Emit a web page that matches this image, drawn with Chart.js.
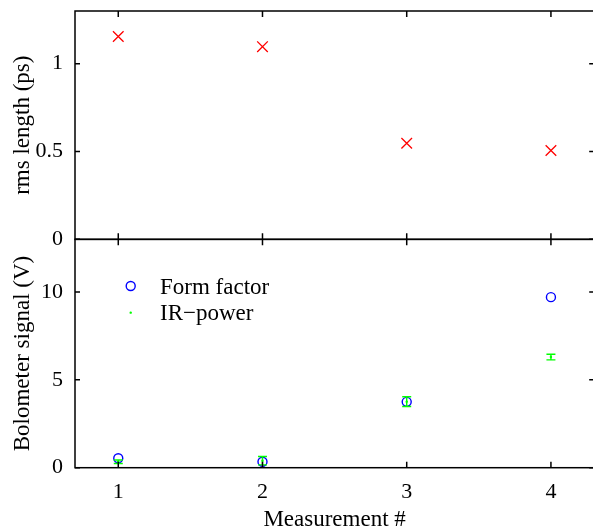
<!DOCTYPE html>
<html><head><meta charset="utf-8">
<script src="https://cdn.jsdelivr.net/npm/chart.js@4"></script>
<style>html,body{margin:0;padding:0;overflow:hidden;background:#fff;width:593px;height:531px}
canvas{display:block}</style></head>
<body><canvas id="c" width="603" height="531"></canvas>
<script>
const measurements=[1,2,3,4];
const rmsLength=[1.155,1.097,0.547,0.506];
const formFactor=[0.54,0.34,3.75,9.71];
const irPower=[0.34,0.40,3.76,6.30];
const irPowerErr=[0.10,0.24,0.28,0.16];
const xTicks=[1,2,3,4];
const topTicks=[0,0.5,1];
const botTicks=[0,5,10];
const legendLabels=['Form factor','IR\u2212power'];
const xTitle='Measurement #';
const topTitle='rms length (ps)';
const botTitle='Bolometer signal (V)';

const FONT='"Liberation Serif","Times New Roman",serif';
const pts=(ys)=>measurements.map((m,i)=>({x:m,y:ys[i]}));

const decor={
  id:'decor',
  afterDatasetsDraw(chart){
    const ctx=chart.ctx, x=chart.scales.x, yb=chart.scales.yBot;
    ctx.save();
    ctx.strokeStyle='#00ff00'; ctx.lineWidth=1.4;
    measurements.forEach((m,i)=>{
      const px=x.getPixelForValue(m);
      const y1=yb.getPixelForValue(irPower[i]-irPowerErr[i]);
      const y2=yb.getPixelForValue(irPower[i]+irPowerErr[i]);
      ctx.beginPath();
      ctx.moveTo(px,y1);ctx.lineTo(px,y2);
      ctx.moveTo(px-4.5,y1);ctx.lineTo(px+4.5,y1);
      ctx.moveTo(px-4.5,y2);ctx.lineTo(px+4.5,y2);
      ctx.stroke();
    });
    ctx.restore();
  },
  afterDraw(chart){
    const ctx=chart.ctx, a=chart.chartArea, x=chart.scales.x;
    ctx.save();
    ctx.strokeStyle='#000'; ctx.lineWidth=1.5;
    ['yTop','yBot'].forEach(id=>{
      const s=chart.scales[id];
      ctx.strokeRect(a.left,s.top,a.right-a.left,s.bottom-s.top);
      ctx.beginPath();
      s.ticks.forEach(t=>{
        const py=s.getPixelForValue(t.value);
        ctx.moveTo(a.left,py);ctx.lineTo(a.left+5,py);
        ctx.moveTo(a.right,py);ctx.lineTo(a.right-5,py);
      });
      x.ticks.forEach(t=>{
        const px=x.getPixelForValue(t.value);
        ctx.moveTo(px,s.top);ctx.lineTo(px,s.top+6);
        ctx.moveTo(px,s.bottom);ctx.lineTo(px,s.bottom-6);
      });
      ctx.stroke();
    });
    // legend
    const yb=chart.scales.yBot;
    const lx=a.left+55.7, ly1=yb.top+46.7, ly2=yb.top+73.3;
    ctx.strokeStyle='#0000ff'; ctx.lineWidth=1.4;
    ctx.beginPath();ctx.arc(lx,ly1,4.5,0,Math.PI*2);ctx.stroke();
    ctx.fillStyle='#00ff00';
    ctx.beginPath();ctx.arc(lx,ly2,1.2,0,Math.PI*2);ctx.fill();
    ctx.fillStyle='#000'; ctx.font='23px '+FONT; ctx.textBaseline='alphabetic'; ctx.textAlign='left';
    ctx.fillText(legendLabels[0],a.left+85,yb.top+54.3);
    ctx.fillText(legendLabels[1],a.left+85,yb.top+80.8);
    ctx.restore();
  }
};

const yCommon=(ticks,title,min,max)=>({
  type:'linear',position:'left',stack:'panels',stackWeight:1,min,max,
  grid:{display:false,drawTicks:false},border:{display:false},
  afterBuildTicks:s=>{s.ticks=ticks.map(v=>({value:v}));},
  afterFit:s=>{s.width=75;s.paddingTop=0;s.paddingBottom=0;},
  ticks:{color:'#000',font:{family:FONT,size:22},padding:12,callback:v=>String(v)},
  title:{display:true,text:title,color:'#000',font:{family:FONT,size:23,lineHeight:1.2},padding:{top:9,bottom:0}}
});

new Chart(document.getElementById('c'),{
  type:'scatter',
  data:{datasets:[
    {label:'rms length',data:pts(rmsLength),xAxisID:'x',yAxisID:'yTop',pointStyle:'crossRot',radius:7.5,borderColor:'#ff0000',backgroundColor:'#ff0000',borderWidth:1.3},
    {label:legendLabels[1],data:pts(irPower),xAxisID:'x',yAxisID:'yBot',pointStyle:'circle',radius:1.2,borderColor:'#00ff00',backgroundColor:'#00ff00',borderWidth:0},
    {label:legendLabels[0],data:pts(formFactor),xAxisID:'x',yAxisID:'yBot',pointStyle:'circle',radius:4.5,borderColor:'#0000ff',backgroundColor:'rgba(0,0,0,0)',borderWidth:1.4}
  ]},
  options:{
    responsive:false,animation:false,devicePixelRatio:1,
    layout:{padding:{top:11,right:5.2,left:0,bottom:0}},
    plugins:{legend:{display:false},tooltip:{enabled:false}},
    scales:{
      x:{type:'linear',min:0.7,max:4.3,
        grid:{display:false,drawTicks:false},border:{display:false},
        afterBuildTicks:s=>{s.ticks=xTicks.map(v=>({value:v}));},
        afterFit:s=>{s.height=63.3;s.paddingLeft=0;s.paddingRight=0;},
        ticks:{color:'#000',font:{family:FONT,size:22},padding:11,callback:v=>String(v)},
        title:{display:true,text:xTitle,color:'#000',font:{family:FONT,size:23,lineHeight:1},padding:{top:0,bottom:0}}
      },
      yBot:yCommon(botTicks,botTitle,0,13),
      yTop:yCommon(topTicks,topTitle,0,1.3)
    }
  },
  plugins:[decor]
});
</script></body></html>
